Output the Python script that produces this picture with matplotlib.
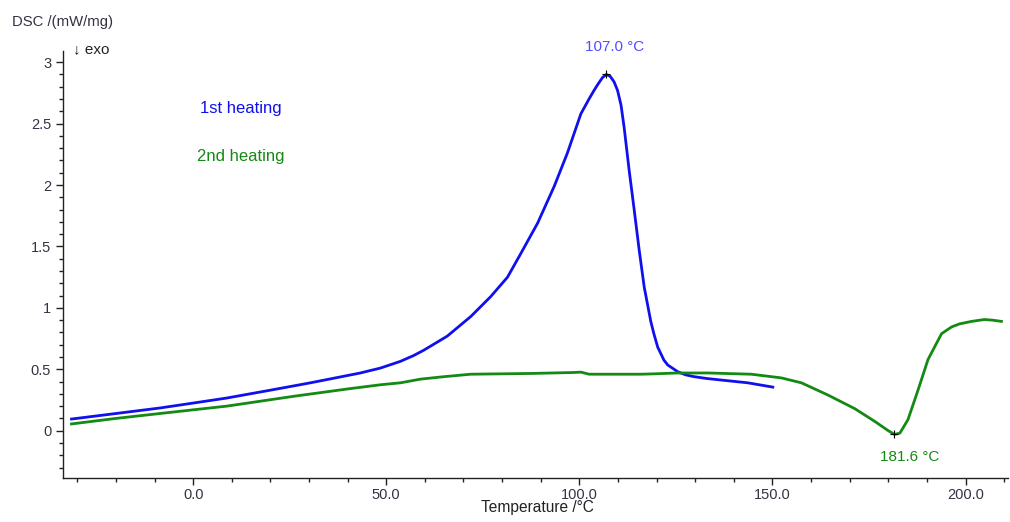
import numpy as np
import matplotlib
matplotlib.use("Agg")
import matplotlib.pyplot as plt
from matplotlib.ticker import MultipleLocator, FuncFormatter

# Data (1st heating)
t1 = [-31.5, -20, -8.6, 0, 8.7, 20, 30.4, 43.3, 48.5, 53.7, 57.1, 59.7, 65.8, 71.9, 77.0, 81.4,
      84.8, 89.2, 93.5, 96.9, 100.4, 102.5, 103.8, 104.8, 106.0, 107.0, 108.0, 109.0, 109.9,
      110.8, 111.6, 112.9, 114.2, 115.5, 116.8, 118.5, 119.3, 120.3, 121.9, 122.9, 125.5, 127.5,
      129.7, 133, 137.5, 143.6, 150.1]
dsc1 = [0.095, 0.14, 0.185, 0.225, 0.266, 0.33, 0.39, 0.47, 0.51, 0.565, 0.612, 0.655, 0.77, 0.93,
        1.09, 1.25, 1.44, 1.69, 1.99, 2.26, 2.58, 2.70, 2.77, 2.82, 2.875, 2.90, 2.885, 2.84, 2.77,
        2.65, 2.47, 2.12, 1.80, 1.47, 1.17, 0.89, 0.79, 0.68, 0.575, 0.535, 0.48, 0.455, 0.44,
        0.425, 0.41, 0.39, 0.355]

# Data (2nd heating)
t2 = [-31.5, -20, -8.6, 0, 8.7, 26, 40, 48.5, 53.7, 58.9, 65, 71.9, 87.4, 98.7, 100.4, 102.5,
      116, 119.4, 125.5, 133.3, 144.5, 152.3, 157.5, 164.4, 171.3, 176.5, 180.0, 181.6, 183.0,
      185.1, 187.7, 190.3, 193.8, 196.4, 198.5, 201.6, 204.9, 207, 209.3]
dsc2 = [0.055, 0.10, 0.14, 0.17, 0.20, 0.28, 0.34, 0.374, 0.39, 0.42, 0.44, 0.46, 0.466, 0.474,
        0.477, 0.46, 0.46, 0.463, 0.47, 0.47, 0.46, 0.43, 0.39, 0.29, 0.18, 0.076, 0.0, -0.03,
        -0.02, 0.09, 0.33, 0.58, 0.79, 0.845, 0.87, 0.89, 0.905, 0.90, 0.89]

peak1 = (107.0, 2.90)
peak2 = (181.6, -0.03)

plt.rcParams['font.family'] = ['Liberation Sans', 'DejaVu Sans']
fig = plt.figure(figsize=(10.10, 5.22), dpi=100)
ax = fig.add_axes([0.0624, 0.0843, 0.9356, 0.8177])

blue = '#1010ee'
green = '#138a13'
ax.plot(t1, dsc1, color=blue, lw=2, solid_joinstyle='round')
ax.plot(t2, dsc2, color=green, lw=2, solid_joinstyle='round')
ax.plot(*peak1, marker='+', color='black', ms=6, mew=0.8)
ax.plot(*peak2, marker='+', color='black', ms=6, mew=0.8)

ax.set_xlim(-33.7, 211)
ax.set_ylim(-0.385, 3.09)

for s in ['top', 'right']:
    ax.spines[s].set_visible(False)
for s in ['left', 'bottom']:
    ax.spines[s].set_color('#222222')
    ax.spines[s].set_linewidth(1)

ax.xaxis.set_major_locator(MultipleLocator(50))
ax.xaxis.set_minor_locator(MultipleLocator(10))
ax.yaxis.set_major_locator(MultipleLocator(0.5))
ax.yaxis.set_minor_locator(MultipleLocator(0.1))
ax.xaxis.set_major_formatter(FuncFormatter(lambda v, p: f"{v:.1f}"))
ax.yaxis.set_major_formatter(FuncFormatter(lambda v, p: f"{v:g}"))
ax.tick_params(which='major', length=5, width=1, color='#222222', labelsize=10.5, labelcolor='#333344')
ax.tick_params(axis='x', which='major', pad=2)
ax.tick_params(which='minor', length=3, width=1, color='#222222')

fig.text(0.012, 0.958, "DSC /(mW/mg)", fontsize=10.7, color='#333344', va='center', ha='left')
fig.text(0.072, 0.906, "\u2193 exo", fontsize=11, color='#222222', va='center', ha='left')
fig.text(0.198, 0.793, "1st heating", fontsize=12, color=blue, va='center', ha='left')
fig.text(0.195, 0.700, "2nd heating", fontsize=12, color=green, va='center', ha='left')
fig.text(0.609, 0.910, "107.0 \u00b0C", fontsize=11, color='#4f4fff', va='center', ha='center')
fig.text(0.9005, 0.1245, "181.6 \u00b0C", fontsize=11, color=green, va='center', ha='center')
fig.text(0.532, 0.027, "Temperature /\u00b0C", fontsize=11.2, color='#222222', va='center', ha='center')

fig.savefig("out.png", dpi=100)
